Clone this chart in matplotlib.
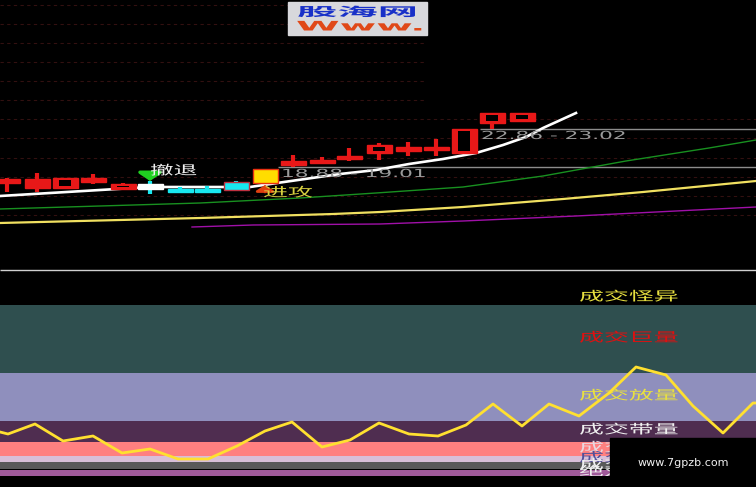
import matplotlib
matplotlib.use('Agg')
import matplotlib.pyplot as plt
from matplotlib.patches import Rectangle
from matplotlib.patheffects import AbstractPathEffect
from matplotlib.transforms import Affine2D

plt.rcParams['font.family'] = ['Noto Sans CJK SC', 'DejaVu Sans']

# all values, y axis runs downwards like the screenshot
candle_x = [7, 37, 65, 93, 123, 150, 180, 207, 236, 265, 293, 322, 349, 379, 408, 436, 464, 492, 522]
candle_top = [179, 179, 178, 178, 184, 184, 189, 189, 182, 169, 161, 160, 156, 145, 147, 147, 129, 113, 113]
candle_bottom = [183, 188, 188, 182, 189, 189, 192, 192, 190, 183, 165, 163, 159, 153, 151, 150, 153, 123, 121]
candle_high = [178, 173, 178, 174, 183, 181, 187, 186, 181, 169, 155, 157, 148, 143, 142, 139, 129, 113, 113]
candle_low = [192, 192, 189, 184, 190, 194, 193, 192, 191, 183, 167, 164, 161, 160, 156, 156, 153, 129, 122]
candle_hollow = [0, 0, 1, 0, 1, 0, 0, 0, 0, 0, 0, 0, 0, 1, 0, 0, 1, 1, 1]
candle_color = ['#e81818'] * 5 + ['#ffffff', '#18e8f0', '#18e8f0', '#18e8f0', '#ffdd00'] + ['#e81818'] * 9
wick_color = ['#e81818'] * 5 + ['#18e8f0', '#18e8f0', '#18e8f0', '#18e8f0', '#ffdd00'] + ['#e81818'] * 9
edge_color = ['#e81818'] * 5 + ['#ffffff', '#18e8f0', '#18e8f0', '#c03040', '#e83010'] + ['#e81818'] * 9

white_x = [0, 150, 250, 277, 340, 376, 409, 443, 476, 503, 526, 543, 576]
white_y = [196, 187, 187, 183, 174, 170, 164, 159, 153, 145, 137, 128, 113]
green_x = [0, 200, 300, 376, 463, 543, 626, 709, 756]
green_y = [209, 203, 198, 193, 187, 176, 161, 148, 140]
yellow_x = [0, 200, 333, 380, 463, 563, 643, 756]
yellow_y = [223, 218, 214, 212, 207, 199, 192, 181]
purple_x = [192, 253, 380, 463, 576, 756]
purple_y = [227, 225, 224, 221, 216, 207]

volume_x = [0, 8, 35, 63, 93, 122, 150, 178, 208, 237, 265, 292, 322, 350, 379, 409, 438, 466, 493,
            522, 549, 579, 609, 636, 666, 693, 723, 753, 756]
volume_y = [432, 434, 424, 441, 436, 453, 449, 459, 459, 446, 431, 422, 447, 440, 423, 434, 436, 425, 404,
            426, 404, 416, 393, 367, 375, 406, 433, 403, 403]

band_top = [305, 373, 421, 442, 456, 462, 470]
band_bottom = [373, 421, 442, 456, 462, 469, 476]
band_color = ['#2f4f4f', '#8f8fbd', '#4f2d50', '#ff8080', '#d8bfd8', '#595959', '#a05a9a']

grid_y = [5, 24, 43, 62, 81, 100, 119, 138, 158, 177, 196, 215]
level_labels = ['成交怪异', '成交巨量', '成交放量', '成交带量', '成交平量', '成交缩量', '成交地量', '绝对地量']
level_y = [297, 338, 396, 430, 448, 458, 465, 472]
level_color = ['#e8e040', '#e01010', '#e8e040', '#f0f0f0', '#e8d8e0', '#50509a', '#f0f0f0', '#f0f0f0']


class StretchX(AbstractPathEffect):
    # the screenshot was squashed, so its text is much wider than tall
    def __init__(self, sx):
        self.sx = sx

    def draw_path(self, renderer, gc, tpath, affine, rgbFace=None):
        renderer.draw_path(gc, tpath, Affine2D().scale(self.sx, 1) + affine, rgbFace)


def wide_text(ax, x, y, s, sx, size, color, **kw):
    return ax.text(x, y, s, color=color, fontsize=size, ha='left', va='center',
                   path_effects=[StretchX(sx)], **kw)


fig = plt.figure(figsize=(7.56, 4.87), dpi=100, facecolor='black')
ax = fig.add_axes([0, 0, 1, 1])
ax.set_xlim(0, 756)
ax.set_ylim(487, 0)
ax.axis('off')

# dotted price grid, the upper rows stop short of the right side
for y in grid_y:
    ax.hlines(y, 0, 425 if y < 110 else 756, color='#321010', lw=0.8, ls=(0, (3, 3)), zorder=1)
ax.hlines(270, 0, 756, color='#d0d0d0', lw=1, zorder=1)
ax.hlines(129, 480, 756, color='#8c8c8c', lw=1, zorder=1)
ax.hlines(167, 278, 756, color='#8c8c8c', lw=1, zorder=1)

ax.plot(purple_x, purple_y, color='#a010a8', lw=1, zorder=2)
ax.plot(yellow_x, yellow_y, color='#f0e060', lw=1.6, zorder=2)
ax.plot(green_x, green_y, color='#189020', lw=1, zorder=2)
ax.plot(white_x, white_y, color='white', lw=1.9, zorder=3)

for i in range(len(candle_x)):
    ax.vlines(candle_x[i], candle_high[i], candle_low[i], color=wick_color[i], lw=3, zorder=4)
    h = candle_bottom[i] - candle_top[i]
    ax.bar(candle_x[i], h, bottom=candle_top[i], width=25, color=candle_color[i],
           edgecolor=edge_color[i], lw=1, zorder=5)
    if candle_hollow[i]:
        # thick side walls, thin top and bottom
        ax.bar(candle_x[i], h - 4, bottom=candle_top[i] + 2, width=12, color='black', zorder=6)

# signal arrows
ax.annotate('', xy=(150, 181), xytext=(150, 173), zorder=7,
            arrowprops=dict(arrowstyle='-|>,head_length=0.6,head_width=0.9', color='#20d020', lw=2.5,
                            mutation_scale=8, shrinkA=0, shrinkB=0))
ax.annotate('', xy=(265, 185), xytext=(265, 192), zorder=7,
            arrowprops=dict(arrowstyle='-|>,head_length=0.5,head_width=0.8', color='#e04010', lw=2,
                            mutation_scale=7, shrinkA=0, shrinkB=0))

wide_text(ax, 150, 171, '撤退', 1.85, 9.2, '#f0f0f0', zorder=8)
wide_text(ax, 263, 193, '进攻', 1.95, 9.2, '#d8d040', zorder=8)
wide_text(ax, 281, 174, '18.88 - 19.01', 1.95, 8, '#9a9a9a', family='DejaVu Sans', zorder=8)
wide_text(ax, 481, 136, '22.86 - 23.02', 1.95, 8, '#9a9a9a', family='DejaVu Sans', zorder=8)

# logo
logo_box = Rectangle((288, 2), 139, 33, color='#d8d8dc', zorder=6)
ax.add_patch(logo_box)
wide_text(ax, 297, 12.5, '股海网', 3.3, 8.8, '#1830c8', fontweight='bold', zorder=8)
logo_www = wide_text(ax, 296, 27, 'Www.', 3.0, 9.5, '#e04818', family='DejaVu Sans', fontweight='bold', zorder=8,
                     clip_on=True)
logo_www.set_clip_path(logo_box)

# volume panel
panel_clip = Rectangle((0, 280), 756, 196, transform=ax.transData)
for i in range(len(band_top)):
    ax.add_patch(Rectangle((0, band_top[i]), 756, band_bottom[i] - band_top[i], color=band_color[i], lw=0, zorder=1))
for i in range(len(level_labels)):
    # the lowest label is cut off where the bands end
    label = wide_text(ax, 579, level_y[i], level_labels[i], 1.95, 9.2, level_color[i], zorder=3, clip_on=True)
    label.set_clip_path(panel_clip)
ax.plot(volume_x, volume_y, color='#ffe030', lw=2, zorder=4)

ax.add_patch(Rectangle((610, 438), 146, 49, color='black', zorder=9))
ax.text(683, 463, 'www.7gpzb.com', color='#f0f0f0', fontsize=8, ha='center', va='center',
        family='DejaVu Sans', zorder=10)

fig.savefig('out.png', dpi=100, facecolor='black')
